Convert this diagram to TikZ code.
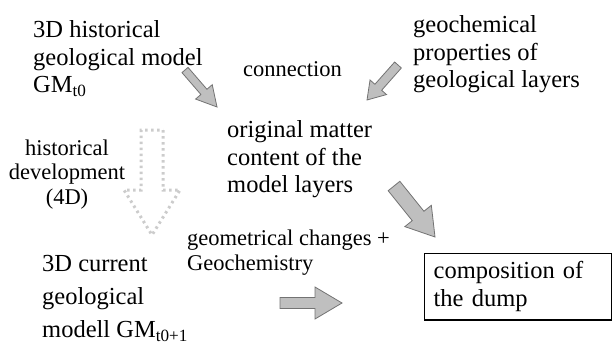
\documentclass[tikz,border=0pt]{standalone}
\usepackage{fontspec}
\setmainfont{Liberation Serif}
\usetikzlibrary{calc}
\tikzset{
  blockarrow/.style n args={3}{
    to path={let \p1=($(\tikztotarget)-(\tikztostart)$), \n1={atan2(\y1,\x1)} in
      ($(\tikztostart)+(\n1+90:#1)$) --
      ($(\tikztotarget)+(\n1+180:#3)+(\n1+90:#1)$) --
      ($(\tikztotarget)+(\n1+180:#3)+(\n1+90:#2)$) --
      (\tikztotarget) --
      ($(\tikztotarget)+(\n1+180:#3)+(\n1-90:#2)$) --
      ($(\tikztotarget)+(\n1+180:#3)+(\n1-90:#1)$) --
      ($(\tikztostart)+(\n1-90:#1)$) -- cycle}},
  grayarrow/.style={fill=gray!50, draw=black!55, line width=0.8pt, line join=miter},
  dotarrow/.style={draw=gray!40, line width=3pt, dash pattern=on 2.5pt off 3.5pt},
  bigtext/.style={inner sep=0pt, align=left, anchor=north west, font=\fontsize{24.5}{27.5}\selectfont},
  smalltext/.style={inner sep=0pt, align=left, anchor=north west, font=\fontsize{22.5}{25}\selectfont},
  boxtext/.style={draw, line width=1.3pt, align=left, anchor=north west, inner xsep=9pt, inner ysep=8pt, text width=169pt, font=\fontsize{24.5}{28}\selectfont}
}
\begin{document}
\begin{tikzpicture}[x=1pt, y=-1pt]
\useasboundingbox (0,0) rectangle (612,345);
% texts
\node[bigtext] (hist) at (33,20.3) {3D historical\\geological model\\GM\textsubscript{t0}};
\node[bigtext] (geochem) at (413,15.3) {geochemical\\properties of\\geological layers};
\node[smalltext] (conn) at (243,61.5) {connection};
\node[bigtext] (orig) at (227,120.3) {original matter\\content of the\\model layers};
\node[smalltext, align=center, anchor=north, font=\fontsize{22.5}{24.5}\selectfont] (dev) at (67,139.6) {historical\\development\\(4D)};
\node[smalltext] (geom) at (187,229.6) {geometrical changes +\\Geochemistry};
\node[bigtext, font=\fontsize{24.5}{33}\selectfont] (curr) at (42,255.3) {3D current\\geological\\modell GM\textsubscript{t0+1}};
\node[boxtext] (comp) at (424,253) {composition of\\the dump};
% arrow end points
\coordinate (a1s) at (185,70);  \coordinate (a1e) at (217,107);
\coordinate (a2s) at (398,65);  \coordinate (a2e) at (367,100);
\coordinate (a3s) at (394,186); \coordinate (a3e) at (435,237);
\coordinate (a4s) at (280,303); \coordinate (a4e) at (342,303);
\coordinate (d1) at (152,130);  \coordinate (d2) at (152,235);
% arrows
\draw[grayarrow, blockarrow={4pt}{11pt}{20pt}] (a1s) to (a1e);
\draw[grayarrow, blockarrow={4.5pt}{11pt}{17pt}] (a2s) to (a2e);
\draw[grayarrow, blockarrow={7.5pt}{17pt}{27pt}] (a3s) to (a3e);
\draw[grayarrow, blockarrow={5.5pt}{16pt}{27pt}] (a4s) to (a4e);
\draw[dotarrow, blockarrow={11pt}{28pt}{45pt}] (d1) to (d2);
\end{tikzpicture}
\end{document}
